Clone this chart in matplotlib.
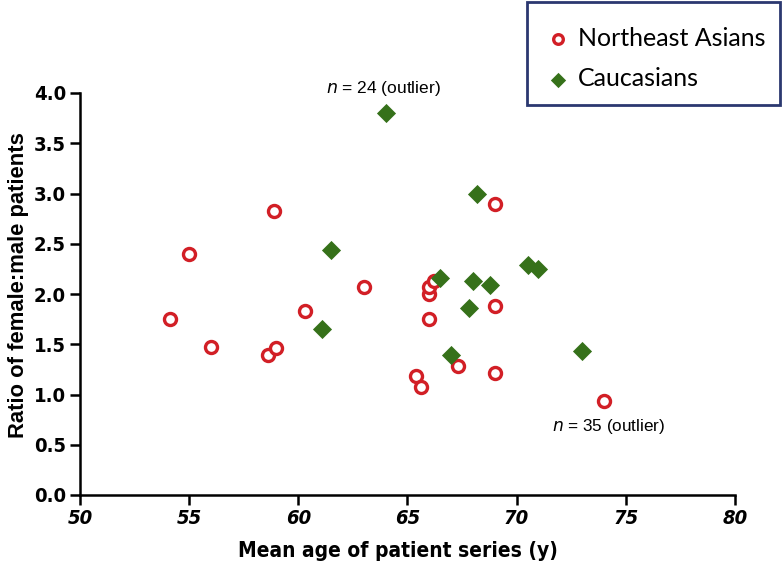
import matplotlib
matplotlib.use("Agg")
import matplotlib.pyplot as plt
from matplotlib.font_manager import FontProperties
from matplotlib.patches import Rectangle

# Data
asian_age = [54.1, 55.0, 56.0, 58.6, 58.9, 59.0, 60.3, 63.0, 65.4, 65.6,
             66.0, 66.0, 66.0, 66.2, 67.3, 69.0, 69.0, 69.0, 74.0]
asian_ratio = [1.75, 2.40, 1.47, 1.39, 2.83, 1.46, 1.83, 2.07, 1.18, 1.07,
               1.75, 2.00, 2.07, 2.13, 1.28, 2.90, 1.88, 1.21, 0.94]
cauc_age = [64.0, 61.5, 61.1, 66.5, 68.2, 68.0, 68.8, 67.8, 67.0, 70.5, 71.0, 73.0]
cauc_ratio = [3.80, 2.44, 1.65, 2.16, 3.00, 2.13, 2.09, 1.86, 1.39, 2.29, 2.25, 1.43]
x_ticks = [50, 55, 60, 65, 70, 75, 80]
y_ticks = [0.0, 0.5, 1.0, 1.5, 2.0, 2.5, 3.0, 3.5, 4.0]

narrow = ['DejaVu Sans']
arial = ['Liberation Sans', 'DejaVu Sans']

W, H = 783, 567
fig = plt.figure(figsize=(W/100, H/100), dpi=100)
ax = fig.add_axes([80/W, 72/H, 655/W, 402/H])

red = '#D21F26'
green = '#36711A'

ax.scatter(asian_age, asian_ratio, s=75, facecolors='white', edgecolors=red,
           linewidths=2.4, marker='o', label='Northeast Asians', zorder=3)
ax.scatter(cauc_age, cauc_ratio, s=95, color=green, marker='D',
           linewidths=0, label='Caucasians', zorder=3)

ax.set_xlim(50, 80)
ax.set_ylim(0, 4)
ax.set_xticks(x_ticks)
ax.set_yticks(y_ticks)
ax.set_xticklabels([str(v) for v in x_ticks], family=narrow, stretch='condensed',
                   fontsize=14.5, fontweight='bold', style='italic')
ax.set_yticklabels([f"{v:.1f}" for v in y_ticks], family=narrow, stretch='condensed',
                   fontsize=14.5, fontweight='bold')
for s in ['top', 'right']:
    ax.spines[s].set_visible(False)
for s in ['left', 'bottom']:
    ax.spines[s].set_linewidth(1.8)
ax.tick_params(direction='out', length=7, width=1.8, pad=3)

fig.text(397.5/W, 1 - 551/H, 'Mean age of patient series (y)', family=narrow,
         stretch='condensed', fontsize=15, fontweight='bold',
         ha='center', va='center')
fig.text(19/W, 1 - 285/H, 'Ratio of female:male patients',
         family=arial, fontsize=15.8, fontweight='bold', rotation=90,
         ha='center', va='center')

fig.text(383/W, 1 - 88/H, r'$\it{n}$ = 24 (outlier)', fontsize=12.5,
         family=arial, ha='center', va='center')
fig.text(609/W, 1 - 427/H, r'$\it{n}$ = 35 (outlier)', fontsize=12.3,
         family=arial, ha='center', va='center')

# legend frame
fig.patches.append(Rectangle((527/W, 1 - 105/H), 253/W, 103/H,
                             transform=fig.transFigure, fill=False,
                             edgecolor='#2B3870', linewidth=2))
leg = fig.legend(loc='upper left', bbox_to_anchor=(548/W, 1 - 27/H),
                 frameon=False,
                 prop=FontProperties(family=['Lato', 'DejaVu Sans'], size=18),
                 handletextpad=0.4, labelspacing=0.7, borderpad=0,
                 markerscale=0.8, borderaxespad=0, handlelength=0.8)

fig.savefig('out.png', dpi=100)
